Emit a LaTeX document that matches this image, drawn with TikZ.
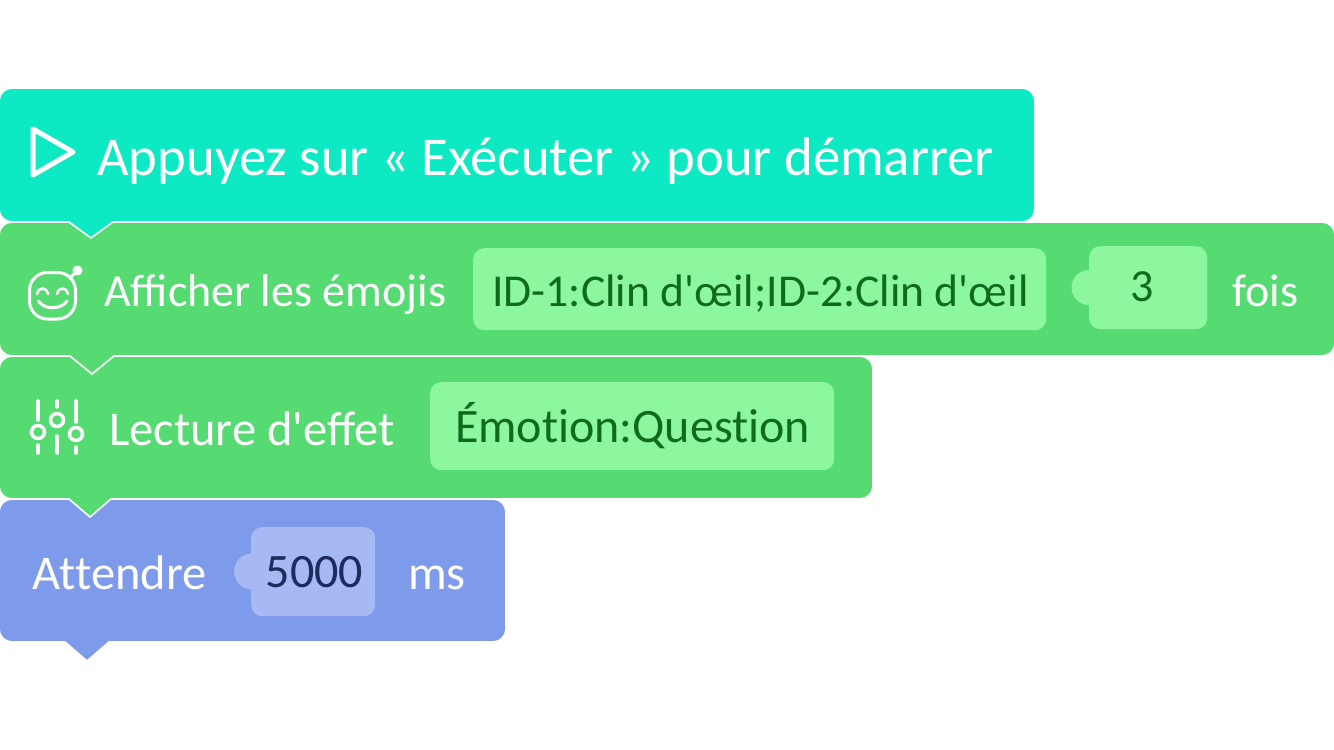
\documentclass[tikz,border=0pt]{standalone}
\usepackage{fontspec}
\newfontfamily\blockfont{Carlito}
\definecolor{startteal}{HTML}{0DEAC3}
\definecolor{blockgreen}{HTML}{55DB72}
\definecolor{blockblue}{HTML}{7E9AEA}
\definecolor{slotgreen}{HTML}{8CF79F}
\definecolor{slotblue}{HTML}{A6B9F2}
\definecolor{textgreen}{HTML}{0E6B1E}
\definecolor{textblue}{HTML}{1D2B5E}
\tikzstyle{block} = [draw=white, line width=1.6pt, line join=miter]
\tikzstyle{label} = [anchor=base west, inner sep=0pt, text=white, font=\fontsize{48.5}{49}\selectfont]
\tikzstyle{slot} = [anchor=north west, inner sep=0pt, rounded corners=11pt]
\tikzstyle{value} = [anchor=base, inner sep=0pt, font=\fontsize{48}{48}\selectfont]
\tikzstyle{icon} = [draw=white, line cap=round, line join=round]
% #1 colour, #2 right, #3 top, #4 bottom, #5 tab left, #6 tab half width, #7 tab depth
\newcommand{\blockpath}[7]{
\path[block, fill=#1] (-1,#3) [rounded corners=13pt] -- (#2,#3) -- (#2,#4) [sharp corners]
 -- (#5+2*#6,#4) -- (#5+#6,#4+#7) -- (#5,#4) [rounded corners=13pt] -- (-1,#4) -- cycle;
}
\begin{document}
\blockfont
\begin{tikzpicture}[x=1pt, y=-1pt]
\useasboundingbox (0,0) rectangle (1334,750);

% Blocks, lowest first
\blockpath{blockblue}{506}{499}{642}{65}{22}{19}
\blockpath{blockgreen}{873}{356}{499}{69}{21}{18}
\blockpath{blockgreen}{1335}{222}{356}{70}{22}{18}
\blockpath{startteal}{1035}{88}{222}{69}{22}{16}

% Start block
\draw[icon, line width=5pt] (33,129) -- (33,175) -- (73,152) -- cycle;
\node[label, font=\fontsize{54.7}{55}\selectfont] (startlabel) at (97,175) {Appuyez sur « Exécuter » pour démarrer};

% Emoji block
\draw[icon, line width=3pt, rounded corners=18pt] (29.5,272.5) rectangle (75.5,319);
\draw[icon, line width=3pt] (71,277) -- (77,271);
\fill[white] (77.5,270.5) circle (5);
\draw[icon, line width=2.6pt] (37,294) arc[start angle=180, end angle=360, radius=5.5];
\draw[icon, line width=2.6pt] (57,294) arc[start angle=180, end angle=360, radius=5.5];
\draw[icon, line width=3pt] (38.5,301) .. controls (44,310) and (61,310) .. (67,301);
\node[label, font=\fontsize{46}{46}\selectfont] (emojilabel) at (104,306) {Afficher les émojis};
\node[slot, fill=slotgreen, minimum width=573pt, minimum height=82pt] (emojislot) at (473,248) {};
\node[value, text=textgreen, font=\fontsize{45.6}{46}\selectfont] (emojivalue) at (760.5,306) {ID-1:Clin d'œil;ID-2:Clin d'œil};
\fill[slotgreen] (1089,287.5) circle (17.5);
\node[slot, fill=slotgreen, minimum width=118pt, minimum height=83pt] (countslot) at (1089,246) {};
\node[value, text=textgreen, font=\fontsize{46}{46}\selectfont] (countvalue) at (1142,301) {3};
\node[label, font=\fontsize{46}{46}\selectfont] (foislabel) at (1232,306) {fois};

% Effect block
\draw[icon, line width=3.5pt] (38,401) -- (38,420) (38,445) -- (38,453);
\draw[icon, line width=3.5pt] (57,401) -- (57,407) (57,436) -- (57,453);
\draw[icon, line width=3.5pt] (76,401) -- (76,422) (76,447) -- (76,453);
\draw[icon, line width=3.5pt] (38,432) circle (6.5) (57,420) circle (6.5) (76,434) circle (6.5);
\node[label] (effetlabel) at (109,445) {Lecture d'effet};
\node[slot, fill=slotgreen, minimum width=404pt, minimum height=88pt] (effetslot) at (430,382) {};
\node[value, text=textgreen] (effetvalue) at (632.5,442) {Émot\kern0pt ion:Quest\kern0pt ion};

% Wait block
\node[label] (waitlabel) at (32,589) {At\kern0pt tendre};
\fill[slotblue] (252,571.5) circle (18);
\node[slot, fill=slotblue, minimum width=124pt, minimum height=89pt] (waitslot) at (251,527) {};
\node[value, text=textblue] (waitvalue) at (314.5,587) {5000};
\node[label] (mslabel) at (408,589) {ms};

\end{tikzpicture}
\end{document}
